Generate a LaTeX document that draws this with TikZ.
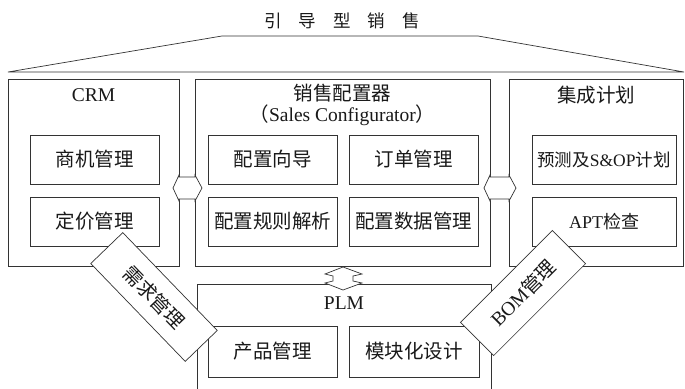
\documentclass[tikz,border=0pt]{standalone}
\usepackage{fontspec}
\setmainfont{Liberation Serif}
\newfontfamily\cjk{Noto Sans CJK SC}
\begin{document}
\begin{tikzpicture}[x=1pt,y=-1pt,
  line width=0.7pt,
  every node/.style={font=\fontsize{19.5}{22}\selectfont, text=black!90},
  bigbox/.style={draw=black!80, fill=white, inner sep=0pt},
  inbox/.style={draw=black!80, fill=white, inner sep=0pt, minimum width=129pt, minimum height=49pt},
  tilted/.style={draw=black!80, fill=white, inner sep=0pt},
  arrowshape/.style={draw=black!80, fill=white, line join=miter}
]
\useasboundingbox (0,0) rectangle (685,388);

% title and roof
\node (title) at (342,21) {\fontsize{17.5}{20}\selectfont\cjk 引\hspace{17pt}导\hspace{17pt}型\hspace{17pt}销\hspace{17pt}售};
\draw[draw=black!80] (8,72) -- (222,36) -- (478,36) -- (684,72) -- cycle;

% big boxes
\node[bigbox, minimum width=171pt, minimum height=187pt] (crm) at (93.5,172.5) {};
\node[bigbox, minimum width=295pt, minimum height=187pt] (sales) at (342.5,172.5) {};
\node[bigbox, minimum width=174pt, minimum height=187pt] (plan) at (596,172.5) {};
\node[bigbox, minimum width=294pt, minimum height=112pt] (plm) at (344,340) {};

% headings
\node (crmT) at (93.5,95) {CRM};
\node (salesT) at (342.5,93) {\cjk 销售配置器};
\node (salesS) at (342.5,115) {{\cjk （}Sales Configurator{\cjk ）}};
\node (planT) at (596,95) {\cjk 集成计划};
\node (plmT) at (344,303) {PLM};

% inner boxes
\node[inbox] (b1) at (94.5,159.5) {\cjk 商机管理};
\node[inbox] (b2) at (94.5,221.5) {\cjk 定价管理};
\node[inbox] (b3) at (272.5,159.5) {\cjk 配置向导};
\node[inbox] (b4) at (413.5,159.5) {\cjk 订单管理};
\node[inbox] (b5) at (272.5,221.5) {\cjk 配置规则解析};
\node[inbox] (b6) at (413.5,221.5) {\cjk 配置数据管理};
\node[inbox, minimum width=144pt] (b7) at (604,159.5) {\fontsize{17.5}{20}\selectfont{\cjk 预测及}S\&OP{\cjk 计划}};
\node[inbox, minimum width=144pt] (b8) at (604,221.5) {\fontsize{18}{20}\selectfont APT{\cjk 检查}};
\node[inbox, minimum height=51pt] (b9) at (272.5,351.5) {\cjk 产品管理};
\node[inbox, minimum width=130pt, minimum height=51pt] (b10) at (414,351.5) {\cjk 模块化设计};

% double arrows
\draw[arrowshape] (173,188) -- (179,175) -- (179,177) -- (195,177) -- (195,175) -- (202,188)
  -- (195,201) -- (195,199) -- (179,199) -- (179,201) -- cycle;
\draw[arrowshape] (484,188) -- (490,175) -- (490,177) -- (509,177) -- (509,175) -- (516,188)
  -- (509,201) -- (509,199) -- (490,199) -- (490,201) -- cycle;
\draw[arrowshape] (343,267) -- (362,274) -- (353,276) -- (353,281) -- (362,283) -- (343,290)
  -- (325,283) -- (333,281) -- (333,276) -- (325,274) -- cycle;

% tilted boxes
\node[tilted, minimum width=136pt, minimum height=44.5pt, rotate=-46] (demand) at (154,297) {\cjk 需求管理};
\node[tilted, minimum width=130pt, minimum height=47pt, rotate=45] (bom) at (523,293) {BOM{\cjk 管理}};
\end{tikzpicture}
\end{document}
